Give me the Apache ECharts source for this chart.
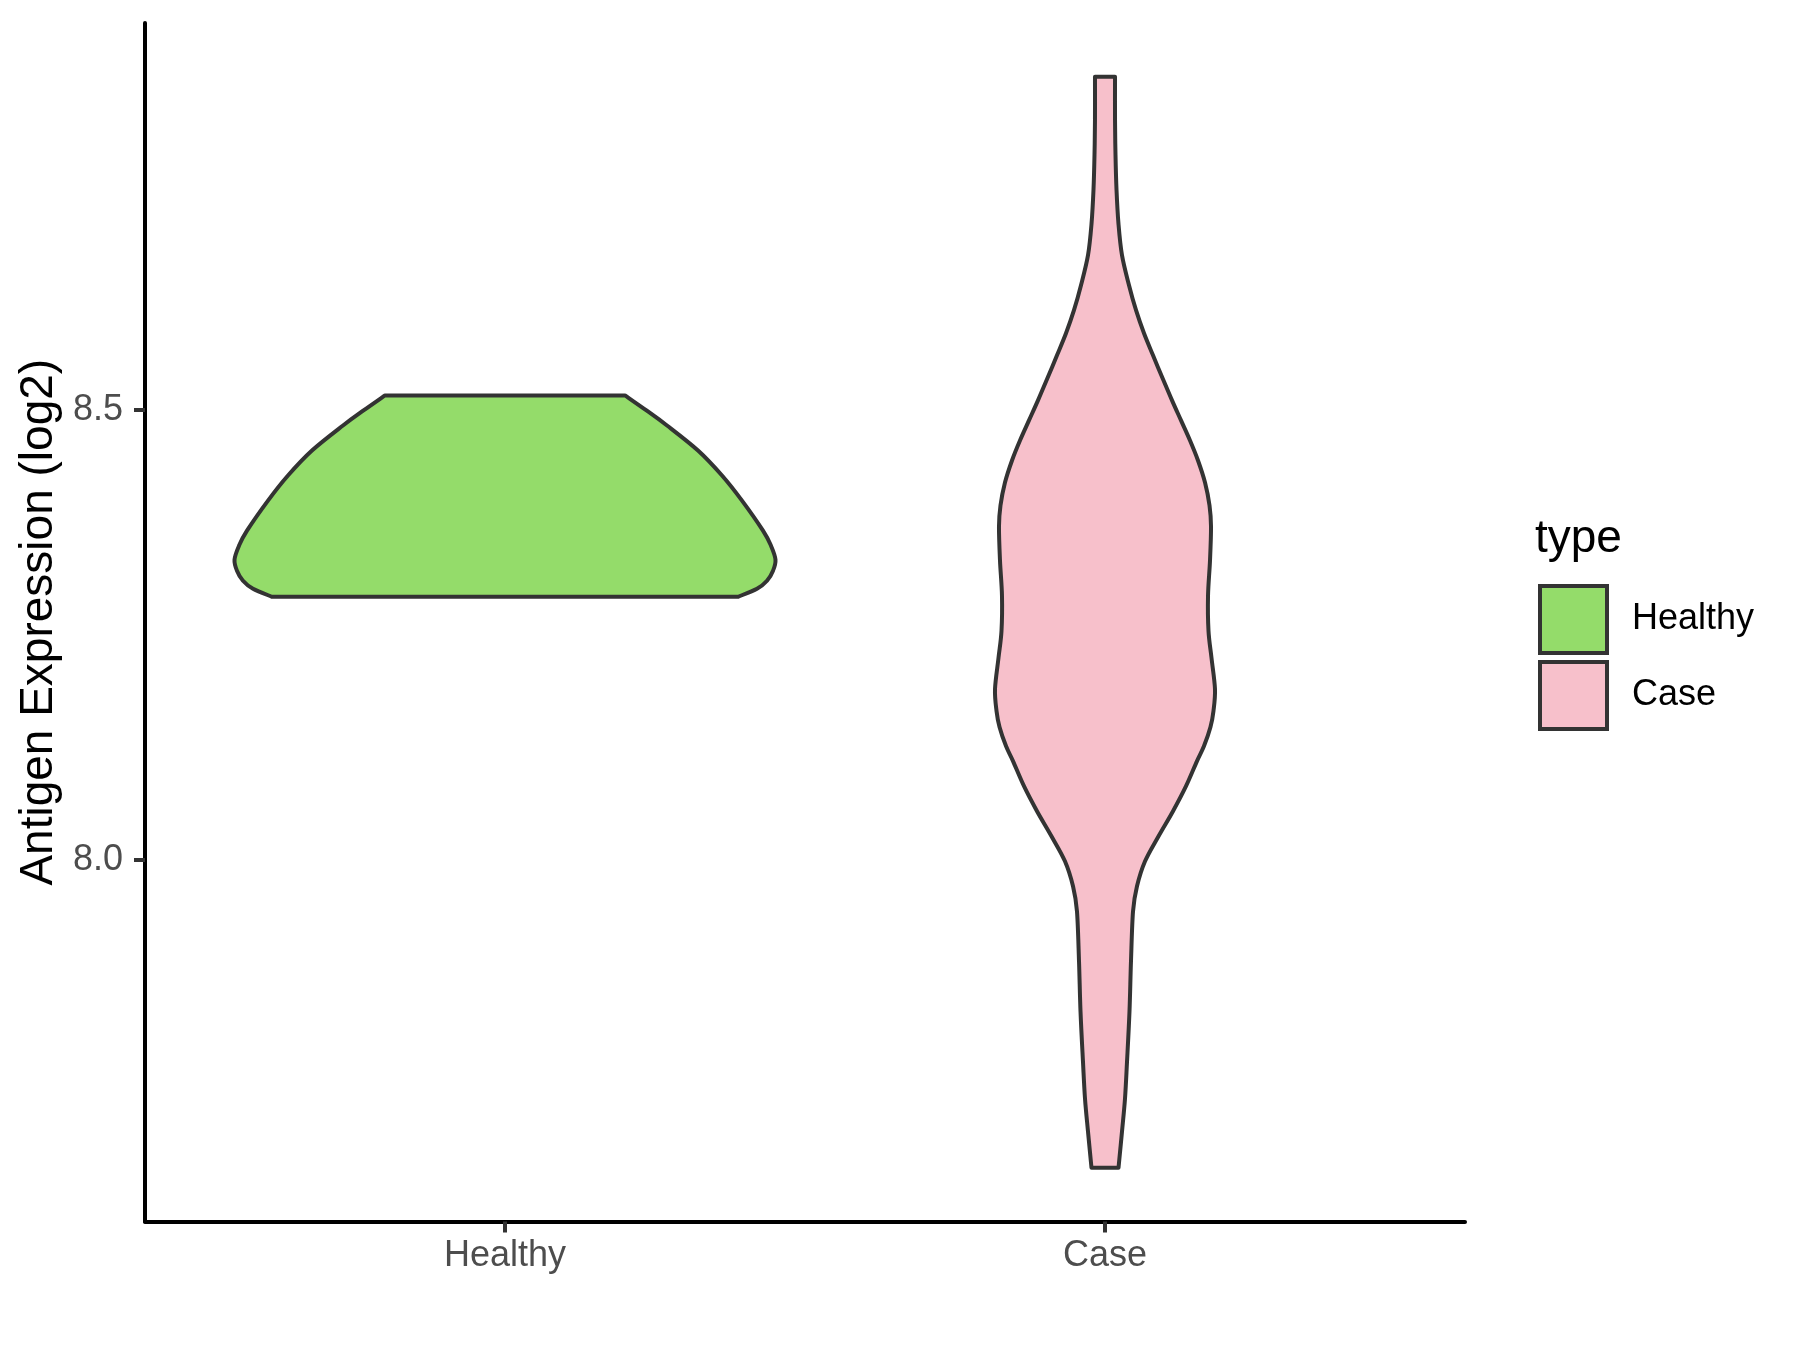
<!DOCTYPE html>
<html><head><meta charset="utf-8">
<script src="https://cdn.jsdelivr.net/npm/echarts@6/dist/echarts.min.js"></script>
<style>html,body{margin:0;padding:0;background:#fff}#c{width:1800px;height:1350px}</style>
</head><body><div id="c"></div>
<script>
// ---- data ----
const categories = ['Healthy', 'Case'];
const yTicks = [8.0, 8.5];
const legendTitle = 'type';
const yTitle = 'Antigen Expression (log2)';

// violin outlines: expression level and half-width (in category units)
const healthyY = [8.5161, 8.4994, 8.4827, 8.4549, 8.4271, 8.3992, 8.3658, 8.3491, 8.3335, 8.3213, 8.3101, 8.3012, 8.2923];
const healthyHalfWidth = [0.200, 0.2358, 0.270, 0.3217, 0.3617, 0.395, 0.430, 0.4433, 0.4508, 0.4467, 0.4367, 0.420, 0.3883];

const caseY = [8.8703, 8.8224, 8.7834, 8.7444, 8.7066, 8.6720, 8.6386, 8.6108, 8.5852, 8.5607, 8.5340, 8.5106, 8.4883, 8.4660, 8.4438, 8.4193, 8.3937, 8.3703, 8.3324, 8.2934, 8.2545, 8.2244, 8.1899, 8.1654, 8.1476, 8.1264, 8.1097, 8.0818, 8.0540, 8.0262, 7.9983, 7.9705, 7.9427, 7.8870, 7.8313, 7.7756, 7.7344, 7.6977, 7.6576];
const caseHalfWidth = [0.0167, 0.0167, 0.0175, 0.0192, 0.0225, 0.0283, 0.040, 0.0517, 0.065, 0.080, 0.0967, 0.1117, 0.1267, 0.1417, 0.155, 0.1667, 0.1742, 0.1767, 0.175, 0.1717, 0.1725, 0.1775, 0.1833, 0.1808, 0.1758, 0.165, 0.1533, 0.135, 0.1133, 0.0892, 0.0667, 0.0533, 0.0467, 0.0433, 0.0408, 0.0367, 0.0333, 0.0283, 0.0225];

const fills = ['#94DC6A', '#F7C0CB'];
const outline = '#333333';
const fontFam = '"Liberation Sans", Arial, sans-serif';

function curve(p) {
  let s = '';
  for (let i = 0; i < p.length - 1; i++) {
    const p0 = p[i - 1] || p[i], p1 = p[i], p2 = p[i + 1], p3 = p[i + 2] || p2;
    const c1x = p1[0] + (p2[0] - p0[0]) / 6, c1y = p1[1] + (p2[1] - p0[1]) / 6;
    const c2x = p2[0] - (p3[0] - p1[0]) / 6, c2y = p2[1] - (p3[1] - p1[1]) / 6;
    s += ' C' + c1x + ' ' + c1y + ' ' + c2x + ' ' + c2y + ' ' + p2[0] + ' ' + p2[1];
  }
  return s;
}

function makeRender(idx, ys, hws) {
  return function (params, api) {
    const c = idx + 1;
    const left = ys.map((y, i) => api.coord([c - hws[i], y]));
    const right = ys.map((y, i) => api.coord([c + hws[i], y])).reverse();
    const d = 'M' + left[0][0] + ' ' + left[0][1] + curve(left) +
      ' L' + right[0][0] + ' ' + right[0][1] + curve(right) + ' Z';
    return {
      type: 'path',
      shape: { pathData: d },
      style: { fill: fills[idx], stroke: outline, lineWidth: 4, lineJoin: 'round' }
    };
  };
}

const violins = [[healthyY, healthyHalfWidth], [caseY, caseHalfWidth]];

const chart = echarts.init(document.getElementById('c'), null, { renderer: 'canvas' });
chart.setOption({
  backgroundColor: '#ffffff',
  animation: false,
  grid: { left: 145, right: 335, top: 23, bottom: 128.5, containLabel: false },
  title: {
    text: legendTitle, left: 1535, top: 516, padding: 0,
    textStyle: { fontSize: 46, fontWeight: 'normal', color: '#000', fontFamily: fontFam }
  },
  legend: {
    orient: 'vertical', left: 1538, top: 584, padding: 0,
    itemWidth: 67, itemHeight: 67, itemGap: 5, icon: 'rect', selectedMode: false,
    data: categories,
    itemStyle: { borderColor: outline, borderWidth: 4 },
    textStyle: { fontSize: 36, color: '#000', fontFamily: fontFam, padding: [0, 0, 0, 20] }
  },
  xAxis: {
    type: 'value', min: 0.4, max: 2.6,
    splitLine: { show: false },
    axisLine: { show: true, onZero: false, lineStyle: { color: '#000', width: 4 } },
    axisTick: { show: true, customValues: [1, 2], length: 11, lineStyle: { color: outline, width: 4 } },
    axisLabel: {
      customValues: [1, 2], formatter: v => categories[Math.round(v) - 1] || '',
      fontSize: 36, color: '#4D4D4D', margin: 17, fontFamily: fontFam
    }
  },
  yAxis: {
    type: 'value', min: 7.598, max: 8.93,
    splitLine: { show: false },
    axisLine: { show: true, onZero: false, lineStyle: { color: '#000', width: 4 } },
    axisTick: { show: true, customValues: yTicks, length: 11, lineStyle: { color: outline, width: 4 } },
    axisLabel: {
      customValues: yTicks, formatter: v => v.toFixed(1),
      fontSize: 36, color: '#4D4D4D', margin: 22, fontFamily: fontFam
    },
    name: yTitle, nameLocation: 'middle', nameGap: 82,
    nameTextStyle: { fontSize: 46, color: '#000', fontFamily: fontFam }
  },
  series: violins.map((v, idx) => ({
    type: 'custom',
    name: categories[idx],
    coordinateSystem: 'cartesian2d',
    itemStyle: { color: fills[idx], borderColor: outline, borderWidth: 4 },
    renderItem: makeRender(idx, v[0], v[1]),
    data: [[idx + 1, v[0][0]]],
    clip: false
  }))
});
</script></body></html>
